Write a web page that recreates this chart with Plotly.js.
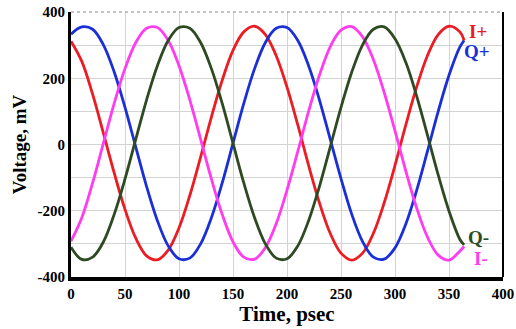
<!DOCTYPE html>
<html>
<head>
<meta charset="utf-8">
<script src="https://cdn.plot.ly/plotly-3.0.1.min.js"></script>
<style>html,body{margin:0;padding:0;background:#fff}#chart{width:516px;height:329px}</style>
</head>
<body>
<div id="chart"></div>
<script>
// Time axis samples (psec)
const timePs = [0,10,20,30,40,50,60,70,80,90,100,110,120,130,140,150,160,170,180,190,200,210,220,230,240,250,260,270,280,290,300,310,320,330,340,350,360,364];
// Voltage readings (mV)
const iPlus  = [312,251,152,34,-86,-196,-283,-336,-348,-319,-252,-154,-38,83,194,284,340,357,332,268,173,59,-63,-176,-268,-328,-349,-328,-268,-176,-63,59,173,268,332,357,340,314];
const qPlus  = [333,355,348,301,219,112,-8,-127,-230,-306,-345,-343,-300,-221,-116,4,124,229,308,351,353,314,238,135,16,-103,-211,-293,-340,-346,-312,-240,-139,-21,100,209,294,314];
const iMinus = [-292,-221,-116,4,124,229,308,351,353,314,238,135,16,-104,-211,-294,-340,-346,-311,-239,-138,-21,100,209,295,345,356,325,256,157,41,-80,-191,-279,-334,-349,-322,-308];
const qMinus = [-310,-347,-340,-294,-211,-104,16,135,238,314,353,351,308,229,124,4,-116,-221,-300,-343,-345,-306,-230,-127,-8,112,219,301,348,355,319,248,147,29,-92,-201,-286,-303];
const seriesNames = ['I+','Q+','I-','Q-'];
const xTickVals = [0,50,100,150,200,250,300,350,400];
const yTickVals = [-400,-200,0,200,400];

const colors = {'I+':'#ec1c24','Q+':'#1b2fd6','I-':'#ff3cf0','Q-':'#2e4a22'};
const serif = 'Liberation Serif, Times New Roman, serif';
const data = [iPlus,qPlus,iMinus,qMinus];

const traces = seriesNames.map((n,i)=>({
  x: timePs, y: data[i], type:'scatter', mode:'lines', name:n,
  line:{color:colors[n], width:2.8, shape:'spline', smoothing:1}
}));

const labelPos = {'I+':[367,342],'Q+':[362,282],'Q-':[366,-280],'I-':[371,-344]};
const annotations = seriesNames.map(n=>({
  x:labelPos[n][0], y:labelPos[n][1], xref:'x', yref:'y', text:'<b>'+n+'</b>',
  showarrow:false, xanchor:'left', yanchor:'middle',
  font:{family:serif, size:19, color:colors[n]}
}));

const layout = {
  width:516, height:329,
  margin:{l:71, r:13, t:12, b:52},
  paper_bgcolor:'#fff', plot_bgcolor:'#fff',
  showlegend:false,
  xaxis:{
    range:[0,400], tickvals:xTickVals, ticktext:xTickVals.map(String),
    showgrid:true, gridcolor:'#d3d3d3', gridwidth:1, zeroline:false,
    showline:true, linecolor:'#000', linewidth:4, ticks:'', ticklen:0,
    tickfont:{family:serif, size:15, color:'#000', weight:'bold'},
    title:{text:'<b>Time, psec</b>', font:{family:serif, size:21, color:'#000'}, standoff:3}
  },
  yaxis:{
    range:[-400,400], tickvals:yTickVals, ticktext:yTickVals.map(String),
    showgrid:true, gridcolor:'#d3d3d3', gridwidth:1, zeroline:false,
    minor:{tickvals:[-300,-100,100,300], showgrid:true, gridcolor:'#d3d3d3', gridwidth:1, ticks:''},
    showline:true, linecolor:'#000', linewidth:3, ticks:'', ticklen:0,
    tickfont:{family:serif, size:15, color:'#000', weight:'bold'},
    title:{text:'<b>Voltage, mV</b>', font:{family:serif, size:19, color:'#000'}, standoff:6}
  },
  shapes:[
    {type:'line', xref:'paper', yref:'paper', x0:1, x1:1, y0:0, y1:1, line:{color:'#000', width:2}},
    {type:'line', xref:'paper', yref:'paper', x0:0, x1:1, y0:1, y1:1, line:{color:'#888', width:1, dash:'dot'}}
  ],
  annotations: annotations
};

Plotly.newPlot('chart', traces, layout, {staticPlot:true, displayModeBar:false});
</script>
</body>
</html>
